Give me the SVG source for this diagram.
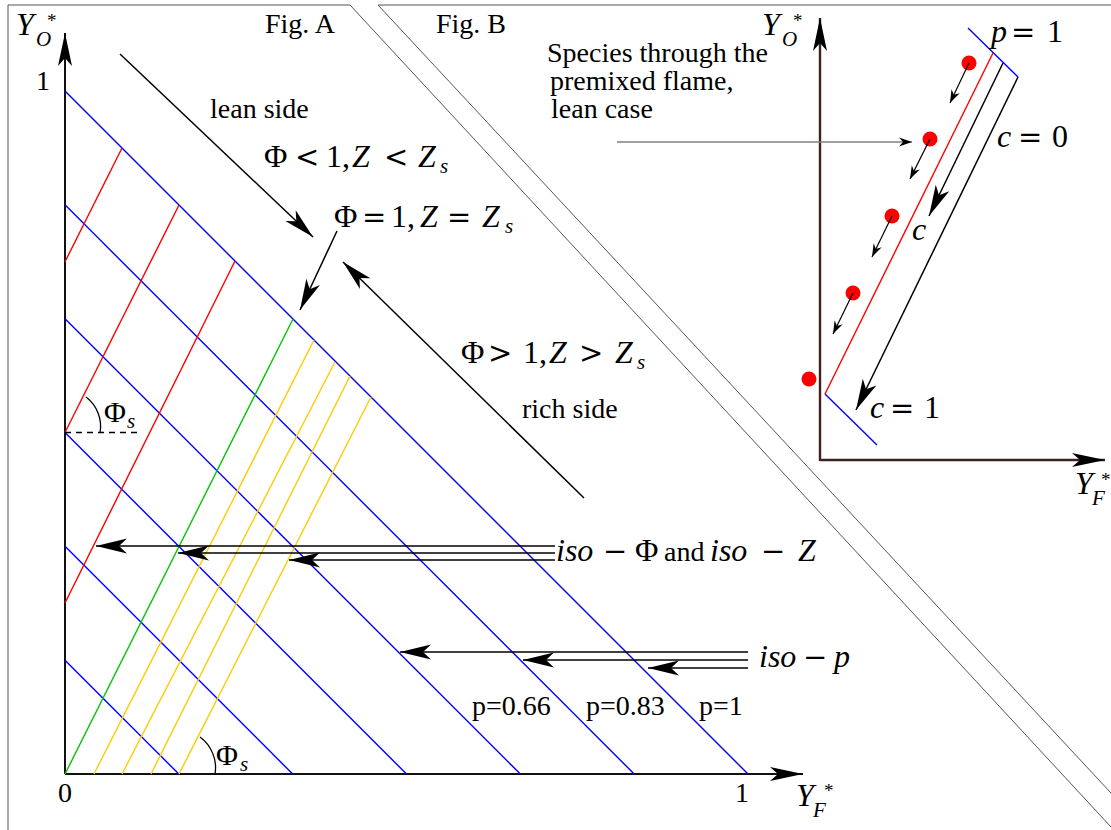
<svg xmlns="http://www.w3.org/2000/svg" width="1111" height="830" viewBox="0 0 1111 830">
<style>
.t{font-family:"Liberation Serif",serif;font-size:28px;fill:#000}
.m{font-family:"Liberation Serif",serif;font-size:32px;fill:#000}
.i{font-style:italic}
.op{font-family:"DejaVu Serif",serif;font-size:29px;font-style:normal}
.sub{font-family:"Liberation Serif",serif;font-size:21px;font-style:italic}
.st{font-family:"Liberation Serif",serif;font-size:19px}
.b{stroke:#0000ff;stroke-width:1.4;fill:none}
.r{stroke:#ff0000;stroke-width:1.4;fill:none}
.g{stroke:#00c800;stroke-width:1.4;fill:none}
.y{stroke:#ffcc00;stroke-width:1.4;fill:none}
.k{stroke:#000;stroke-width:1.5;fill:none}
.ax{stroke:#111;stroke-width:2;fill:none}
.axb{stroke:#402020;stroke-width:2.4;fill:none}
.frame{stroke:#555;stroke-width:1;fill:none}
</style>
<defs>
<marker id="ah" viewBox="-32 -10 34 20" markerWidth="34" markerHeight="20" refX="0" refY="0" orient="auto" markerUnits="userSpaceOnUse"><path d="M0,0 L-31,-7.5 L-23,0 L-31,7.5 Z" fill="#000"/></marker>
<marker id="axh" viewBox="-36 -10 38 20" markerWidth="38" markerHeight="20" refX="0" refY="0" orient="auto" markerUnits="userSpaceOnUse"><path d="M0,0 L-33,-7 L-25,0 L-33,7 Z" fill="#000"/></marker>
<marker id="sh" viewBox="-14 -6 16 12" markerWidth="16" markerHeight="12" refX="0" refY="0" orient="auto" markerUnits="userSpaceOnUse"><path d="M0,0 L-13,-4.5 L-9,0 L-13,4.5 Z" fill="#000"/></marker>
</defs>

<g id="frames">
<path class="frame" d="M8,830 L8,5 L350,5 L1111,827"/>
<path class="frame" d="M1111,5 L378,5 L1111,793"/>
</g>

<g id="figA">
<g id="axesA">
<line class="ax" x1="65" y1="774" x2="65" y2="33" marker-end="url(#axh)"/>
<line class="ax" x1="65" y1="774" x2="803" y2="774" marker-end="url(#axh)"/>
<text class="m i" x="16" y="35">Y</text><text class="sub" x="36" y="46">O</text><text class="st" x="47" y="27">*</text>
<text class="m i" x="796" y="806">Y</text><text class="sub" x="813" y="817">F</text><text class="st" x="824" y="797">*</text>
<text class="t" x="43" y="90" text-anchor="middle">1</text>
<text class="t" x="65" y="802" text-anchor="middle">0</text>
<text class="t" x="742" y="802" text-anchor="middle">1</text>
</g>
<g id="isoP">
<line class="b" x1="65" y1="91" x2="748" y2="774"/>
<line class="b" x1="65" y1="204.8" x2="634.2" y2="774"/>
<line class="b" x1="65" y1="318.7" x2="520.3" y2="774"/>
<line class="b" x1="65" y1="432.5" x2="406.5" y2="774"/>
<line class="b" x1="65" y1="546.3" x2="292.7" y2="774"/>
<line class="b" x1="65" y1="660.2" x2="178.8" y2="774"/>
</g>
<g id="isoPhi">
<line class="r" x1="65" y1="261.8" x2="122" y2="148"/>
<line class="r" x1="65" y1="432.5" x2="179" y2="205"/>
<line class="r" x1="65" y1="603" x2="235" y2="261"/>
<line class="g" x1="65" y1="774" x2="293" y2="319"/>
<line class="y" x1="94" y1="774" x2="314" y2="340"/>
<line class="y" x1="122" y1="774" x2="335" y2="362"/>
<line class="y" x1="151" y1="774" x2="350" y2="376"/>
<line class="y" x1="179" y1="774" x2="371" y2="397"/>
</g>
<g id="angles">
<line x1="65" y1="432.5" x2="137" y2="432.5" stroke="#000" stroke-width="1.3" stroke-dasharray="6 5"/>
<path d="M86,397 A37,37 0 0 1 100,433" stroke="#000" stroke-width="1.3" fill="none"/>
<path d="M200,737 A38,38 0 0 1 215,774" stroke="#000" stroke-width="1.3" fill="none"/>
<text class="m" x="104" y="422" style="font-size:30px">Φ</text><text class="sub" x="127" y="428">s</text>
<text class="m" x="216" y="765" style="font-size:30px">Φ</text><text class="sub" x="240" y="771">s</text>
</g>
<g id="labelsA">
<text class="t" x="265" y="33">Fig. A</text>
<text class="t" x="210" y="118">lean side</text>
<text class="t" x="522" y="418">rich side</text>
<text class="m"><tspan x="264" y="167">Φ</tspan><tspan x="295" class="op">&lt;</tspan><tspan x="326">1,</tspan><tspan x="352" class="i">Z</tspan><tspan x="384" class="op">&lt;</tspan><tspan x="418" class="i">Z</tspan></text><text class="sub" x="440" y="173">s</text>
<text class="m"><tspan x="334" y="227">Φ</tspan><tspan x="362" class="op">=</tspan><tspan x="391">1,</tspan><tspan x="420" class="i">Z</tspan><tspan x="447" class="op">=</tspan><tspan x="482" class="i">Z</tspan></text><text class="sub" x="505" y="233">s</text>
<text class="m"><tspan x="461" y="363">Φ</tspan><tspan x="488" class="op">&gt;</tspan><tspan x="523">1,</tspan><tspan x="549" class="i">Z</tspan><tspan x="579" class="op">&gt;</tspan><tspan x="615" class="i">Z</tspan></text><text class="sub" x="637" y="369">s</text>
<text class="m"><tspan x="556" y="561" class="i">iso</tspan><tspan x="603" class="op">−</tspan><tspan x="635">Φ</tspan><tspan x="664" style="font-size:28px">and</tspan><tspan x="710" class="i">iso</tspan><tspan x="761" class="op">−</tspan><tspan x="798" class="i">Z</tspan></text>
<text class="m"><tspan x="759" y="667" class="i">iso</tspan><tspan x="803" class="op">−</tspan><tspan x="834" class="i">p</tspan></text>
<text class="t" x="472" y="715">p=0.66</text>
<text class="t" x="586" y="715">p=0.83</text>
<text class="t" x="699" y="715">p=1</text>
</g>
</g>

<g id="connectorsA">
<line class="k" x1="120" y1="54" x2="313" y2="237" marker-end="url(#ah)"/>
<line class="k" x1="337" y1="231" x2="300" y2="310" marker-end="url(#ah)"/>
<line class="k" x1="584" y1="498" x2="343" y2="262" marker-end="url(#ah)"/>
<line class="k" x1="555" y1="546" x2="96" y2="546" marker-end="url(#ah)"/>
<line class="k" x1="555" y1="553" x2="178" y2="553" marker-end="url(#ah)"/>
<line class="k" x1="555" y1="560" x2="289" y2="560" marker-end="url(#ah)"/>
<line class="k" x1="748" y1="652" x2="400" y2="652" marker-end="url(#ah)"/>
<line class="k" x1="748" y1="660" x2="523" y2="660" marker-end="url(#ah)"/>
<line class="k" x1="748" y1="668" x2="648" y2="668" marker-end="url(#ah)"/>
</g>

<g id="figB">
<g id="axesB">
<line class="axb" x1="820" y1="461" x2="820" y2="18" marker-end="url(#axh)"/>
<line class="axb" x1="820" y1="460" x2="1105" y2="460" marker-end="url(#axh)"/>
<text class="m i" x="762" y="35">Y</text><text class="sub" x="782" y="46">O</text><text class="st" x="793" y="27">*</text>
<text class="m i" x="1075" y="494">Y</text><text class="sub" x="1092" y="505">F</text><text class="st" x="1101" y="486">*</text>
</g>
<g id="flame">
<line class="b" x1="968" y1="28" x2="1018" y2="77"/>
<line class="b" x1="825" y1="394" x2="877" y2="445"/>
<line class="r" x1="993" y1="53" x2="825" y2="394"/>
<circle cx="969" cy="63" r="7.5" fill="#ff0000"/>
<circle cx="930" cy="139" r="7.5" fill="#ff0000"/>
<circle cx="892" cy="216" r="7.5" fill="#ff0000"/>
<circle cx="853" cy="293" r="7.5" fill="#ff0000"/>
<circle cx="809" cy="379" r="7.5" fill="#ff0000"/>
</g>
<g id="labelsB">
<text class="t" x="436" y="33">Fig. B</text>
<text class="t" x="547" y="62">Species through the</text>
<text class="t" x="550" y="90">premixed flame,</text>
<text class="t" x="551" y="118">lean case</text>
<text class="m"><tspan x="991" y="42" class="i">p</tspan><tspan x="1011" class="op">=</tspan><tspan x="1047">1</tspan></text>
<text class="m"><tspan x="997" y="147" class="i">c</tspan><tspan x="1018" class="op">=</tspan><tspan x="1052">0</tspan></text>
<text class="m i" x="912" y="240">c</text>
<text class="m"><tspan x="870" y="418" class="i">c</tspan><tspan x="890" class="op">=</tspan><tspan x="924">1</tspan></text>
</g>
</g>

<g id="connectorsB">
<line x1="617" y1="142" x2="912" y2="142" stroke="#808080" stroke-width="1.4" marker-end="url(#sh)"/>
<line class="k" x1="1003" y1="63" x2="929" y2="216" marker-end="url(#ah)"/>
<line class="k" x1="1018" y1="77" x2="856" y2="410" marker-end="url(#ah)"/>
<line x1="969" y1="63" x2="950" y2="103" stroke="#000" stroke-width="1.2" marker-end="url(#sh)"/>
<line x1="930" y1="139" x2="910" y2="179" stroke="#000" stroke-width="1.2" marker-end="url(#sh)"/>
<line x1="892" y1="216" x2="872" y2="257" stroke="#000" stroke-width="1.2" marker-end="url(#sh)"/>
<line x1="853" y1="293" x2="833" y2="334" stroke="#000" stroke-width="1.2" marker-end="url(#sh)"/>
</g>
</svg>
